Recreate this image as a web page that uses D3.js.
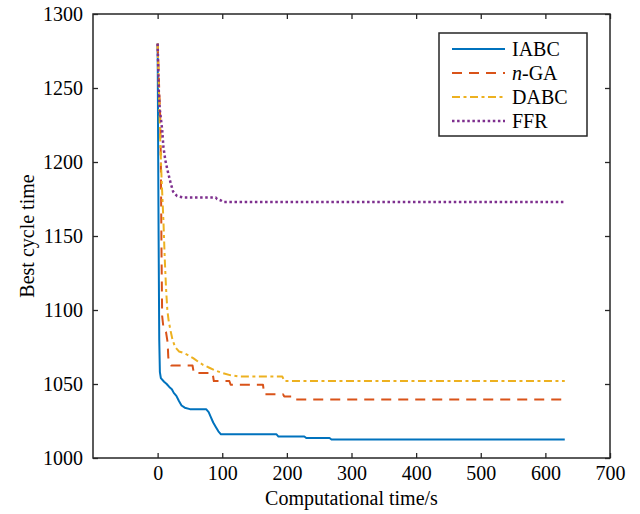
<!DOCTYPE html>
<html>
<head>
<meta charset="utf-8">
<script src="https://cdn.jsdelivr.net/npm/d3@7"></script>
<style>
  body { margin: 0; background: #fff; }
  svg { display: block; }
</style>
</head>
<body>
<script>
// Tick values
const xTicks = [0, 100, 200, 300, 400, 500, 600, 700];
const yTicks = [1000, 1050, 1100, 1150, 1200, 1250, 1300];

// Best cycle time over computational time, one [time, value] list per algorithm
const iabc = [[0,1280],[1.5,1150],[2.5,1080],[3.5,1058],[5,1054],[10,1051.5],[14,1050],[18,1048],[22,1046.5],[25,1044],[29,1042],[33,1038.5],[37,1035.5],[42,1034],[50,1033],[75,1033],[79,1031],[82,1028],[86,1024],[90,1021],[94,1018],[98,1016],[184,1016],[187,1014.5],[227,1014.5],[230,1013.5],[266,1013.5],[269,1012.5],[630,1012.5]];
const nga = [[0,1280],[2,1255],[4,1230],[5,1200],[6,1140],[7,1096],[9,1088],[13,1085],[15.5,1078],[16.5,1068],[19,1063.5],[21,1062.5],[54,1062.5],[56,1057.5],[85,1057.5],[87,1052],[111,1052],[113,1049.5],[163,1049.5],[165,1043],[194,1043],[196,1041.5],[212,1041.5],[214,1039.5],[630,1039.5]];
const dabc = [[0,1280],[2,1250],[4,1215],[6,1190],[8,1170],[9,1160],[11,1135],[13,1115],[15,1100],[17,1093],[20,1086],[23,1080],[27,1075],[33,1072],[40,1071],[47,1069.5],[55,1067.5],[63,1065],[70,1063],[80,1061],[90,1059],[100,1057.5],[112,1056],[128,1055],[193,1055],[196,1052],[630,1052]];
const ffr = [[0,1280],[1,1262],[2,1245],[3.5,1235],[7,1222],[9,1210],[12,1201],[15,1195],[20,1186],[24,1180],[30,1177],[40,1176],[90,1176],[92,1175],[98,1174],[102,1173],[630,1173]];

const seriesNames = ["IABC", "n-GA", "DABC", "FFR"];
const seriesData = [iabc, nga, dabc, ffr];
const seriesColors = ["#0072BD", "#D95319", "#EDB120", "#7E2F8E"];
const seriesDash = [null, "10,7", "8,3.5,3,3.5", "2.5,2.6"];
const seriesWidth = [2, 2, 2, 2.5];

const FONT = '"Liberation Serif", "Times New Roman", Times, serif';
const FS = "20px";

const W = 640, H = 514;
const L = 93, R = 610, T = 14, B = 458;

const svg = d3.select("body").append("svg")
  .attr("width", W).attr("height", H)
  .style("font-family", FONT);

const x = d3.scaleLinear().domain([-100, 700]).range([L, R]);
const y = d3.scaleLinear().domain([1000, 1300]).range([B, T]);

svg.append("clipPath").attr("id", "plot-clip")
  .append("rect").attr("x", L).attr("y", T).attr("width", R - L).attr("height", B - T);

// Curves
const line = d3.line().x(d => x(d[0])).y(d => y(d[1]));
const g = svg.append("g").attr("clip-path", "url(#plot-clip)");
seriesData.forEach((data, i) => {
  g.append("path")
    .attr("d", line(data))
    .attr("fill", "none")
    .attr("stroke", seriesColors[i])
    .attr("stroke-width", seriesWidth[i])
    .attr("stroke-dasharray", seriesDash[i])
    .attr("stroke-linejoin", "round");
});

// Axes with inward ticks on all four sides
function styleAxis(sel) {
  sel.attr("font-family", null).attr("font-size", null);
  sel.selectAll("path").remove();
  sel.selectAll("line").attr("stroke", "#262626").attr("stroke-width", 1.3);
  sel.selectAll("text")
    .style("font-family", FONT).style("font-size", FS).attr("fill", "#000");
}
const fmt = d3.format("d");
svg.append("g").attr("transform", `translate(0,${B})`)
  .call(d3.axisBottom(x).tickValues(xTicks).tickFormat(fmt).tickSizeInner(-5).tickSizeOuter(0).tickPadding(8))
  .call(styleAxis);
svg.append("g").attr("transform", `translate(${L},0)`)
  .call(d3.axisLeft(y).tickValues(yTicks).tickFormat(fmt).tickSizeInner(-5).tickSizeOuter(0).tickPadding(10))
  .call(styleAxis);
svg.append("g").attr("transform", `translate(0,${T})`)
  .call(d3.axisTop(x).tickValues(xTicks).tickSizeInner(-5).tickSizeOuter(0).tickFormat(""))
  .call(styleAxis);
svg.append("g").attr("transform", `translate(${R},0)`)
  .call(d3.axisRight(y).tickValues(yTicks).tickSizeInner(-5).tickSizeOuter(0).tickFormat(""))
  .call(styleAxis);

svg.append("rect")
  .attr("x", L).attr("y", T).attr("width", R - L).attr("height", B - T)
  .attr("fill", "none").attr("stroke", "#262626").attr("stroke-width", 1.5);

// Axis titles
svg.append("text")
  .attr("x", (L + R) / 2).attr("y", 505)
  .attr("text-anchor", "middle")
  .style("font-family", FONT).style("font-size", FS)
  .text("Computational time/s");
svg.append("text")
  .attr("transform", `translate(34,${(T + B) / 2}) rotate(-90)`)
  .attr("text-anchor", "middle")
  .style("font-family", FONT).style("font-size", FS)
  .text("Best cycle time");

// Legend
const lg = svg.append("g");
lg.append("rect")
  .attr("x", 439).attr("y", 33).attr("width", 148).attr("height", 103)
  .attr("fill", "#fff").attr("stroke", "#262626").attr("stroke-width", 1.5);
seriesNames.forEach((name, i) => {
  const yy = 49 + i * 24;
  lg.append("line")
    .attr("x1", 452).attr("x2", 505).attr("y1", yy).attr("y2", yy)
    .attr("stroke", seriesColors[i])
    .attr("stroke-width", seriesWidth[i])
    .attr("stroke-dasharray", seriesDash[i]);
  const t = lg.append("text")
    .attr("x", 512).attr("y", yy).attr("dy", "0.35em")
    .style("font-family", FONT).style("font-size", FS);
  if (name.startsWith("n-")) {
    t.append("tspan").style("font-style", "italic").text("n");
    t.append("tspan").text(name.slice(1));
  } else {
    t.text(name);
  }
});
</script>
</body>
</html>
